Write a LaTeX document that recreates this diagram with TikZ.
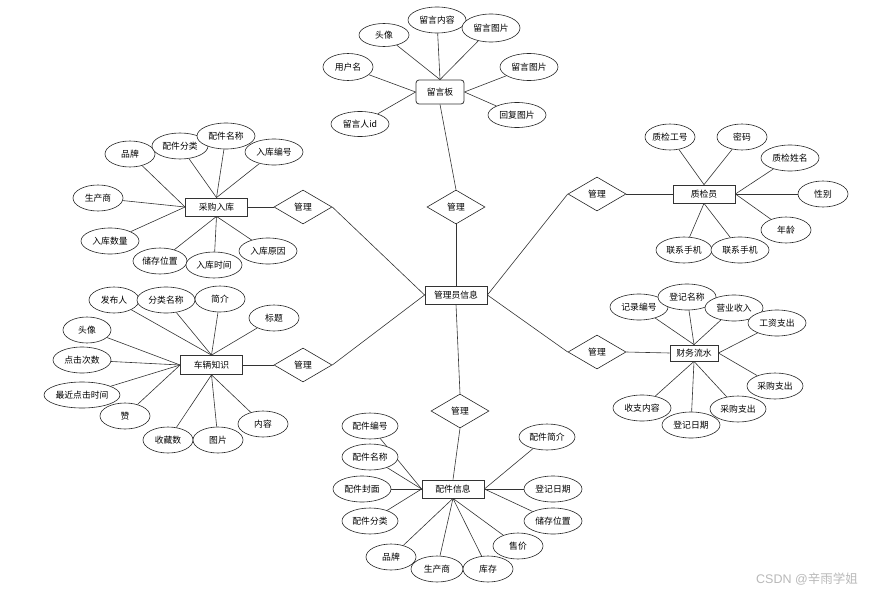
\documentclass[tikz,border=0pt]{standalone}
\usepackage{fontspec}
\newfontfamily\cjk{Noto Sans CJK SC}
\usetikzlibrary{shapes.geometric,backgrounds}
\tikzset{
  lbl/.style={font=\cjk\fontsize{8.8}{10}\selectfont},
  ent/.style={lbl,rectangle,draw=black!80,line width=0.8pt,fill=white,minimum width=62pt,minimum height=18pt,inner sep=1pt},
  attr/.style={lbl,ellipse,draw=black!85,line width=0.6pt,fill=white,minimum width=50pt,minimum height=26pt,inner sep=0pt},
  rel/.style={lbl,diamond,draw=black!85,line width=0.6pt,fill=white,minimum width=58pt,minimum height=34pt,inner sep=0pt},
  conn/.style={draw=black!80,line width=0.6pt},
}
\begin{document}
\begin{tikzpicture}[x=1pt,y=-1pt]
\useasboundingbox (0,0) rectangle (875,594);
% central
\node[ent] (admin) at (456,295) {管理员信息};
% relations
\node[rel] (d1) at (456,207) {管理};
\node[rel] (d2) at (303,207) {管理};
\node[rel] (d3) at (303,365) {管理};
\node[rel] (d4) at (597,194) {管理};
\node[rel] (d5) at (597,352) {管理};
\node[rel] (d6) at (460,411) {管理};
% entities
\node[ent,minimum width=48pt,minimum height=24pt,rounded corners=3pt] (ly) at (440,92) {留言板};
\node[ent] (zj) at (704,194) {质检员};
\node[ent] (cg) at (216.5,207) {采购入库};
\node[ent,minimum height=19pt] (cl) at (211.5,365) {车辆知识};
\node[ent,minimum width=48pt,minimum height=16pt] (cw) at (694,353) {财务流水};
\node[ent] (pj) at (453,489) {配件信息};
% 留言板 attributes
\node[attr,minimum height=23pt] (ly1) at (384,35) {头像};
\node[attr,minimum width=58pt] (ly2) at (437,20) {留言内容};
\node[attr,minimum width=58pt,minimum height=28pt] (ly3) at (491,28) {留言图片};
\node[attr,minimum height=27pt] (ly4) at (348,67) {用户名};
\node[attr,minimum width=58pt,minimum height=27pt] (ly5) at (529,67) {留言图片};
\node[attr,minimum width=58pt,minimum height=25pt] (ly6) at (360,124) {留言人id};
\node[attr,minimum width=58pt,minimum height=25pt] (ly7) at (517,115) {回复图片};
% 质检员 attributes
\node[attr] (zj1) at (670,137) {质检工号};
\node[attr] (zj2) at (742,137) {密码};
\node[attr,minimum width=58pt] (zj3) at (790,158) {质检姓名};
\node[attr] (zj4) at (823,194) {性别};
\node[attr] (zj5) at (786,230) {年龄};
\node[attr,minimum width=56pt] (zj6) at (684,250) {联系手机};
\node[attr,minimum width=58pt] (zj7) at (740,250) {联系手机};
% 采购入库 attributes
\node[attr] (cg1) at (130,154) {品牌};
\node[attr,minimum width=56pt] (cg2) at (180,146) {配件分类};
\node[attr,minimum width=58pt] (cg3) at (226,136) {配件名称};
\node[attr,minimum width=58pt] (cg4) at (274,152) {入库编号};
\node[attr] (cg5) at (98,198) {生产商};
\node[attr,minimum width=58pt] (cg6) at (110,241) {入库数量};
\node[attr,minimum width=54pt] (cg7) at (160,261) {储存位置};
\node[attr,minimum width=56pt] (cg8) at (214,265) {入库时间};
\node[attr,minimum width=58pt] (cg9) at (268,251) {入库原因};
% 车辆知识 attributes
\node[attr] (cl1) at (114,300) {发布人};
\node[attr,minimum width=58pt] (cl2) at (166,300) {分类名称};
\node[attr] (cl3) at (220,299) {简介};
\node[attr] (cl4) at (274,318) {标题};
\node[attr,minimum width=48pt] (cl5) at (87,330) {头像};
\node[attr,minimum width=58pt] (cl6) at (82,360) {点击次数};
\node[attr,minimum width=76pt] (cl7) at (82,395) {最近点击时间};
\node[attr] (cl8) at (125,416) {赞};
\node[attr] (cl9) at (168,440) {收藏数};
\node[attr] (cl10) at (218,440) {图片};
\node[attr] (cl11) at (263,424) {内容};
% 财务流水 attributes
\node[attr,minimum width=58pt] (cw1) at (639,307) {记录编号};
\node[attr,minimum width=58pt] (cw2) at (687,297) {登记名称};
\node[attr,minimum width=58pt] (cw3) at (734,308) {营业收入};
\node[attr,minimum width=58pt] (cw4) at (777,323) {工资支出};
\node[attr,minimum width=56pt] (cw5) at (775,386) {采购支出};
\node[attr,minimum width=56pt] (cw6) at (738,409) {采购支出};
\node[attr,minimum width=58pt] (cw7) at (691,425) {登记日期};
\node[attr,minimum width=58pt] (cw8) at (642,408) {收支内容};
% 配件信息 attributes
\node[attr,minimum width=56pt] (pj1) at (370,426) {配件编号};
\node[attr,minimum width=56pt] (pj2) at (370,457) {配件名称};
\node[attr,minimum width=58pt] (pj3) at (362,489) {配件封面};
\node[attr,minimum width=56pt] (pj4) at (370,521) {配件分类};
\node[attr] (pj5) at (391,557) {品牌};
\node[attr,minimum width=52pt] (pj6) at (437,569) {生产商};
\node[attr] (pj7) at (488,569) {库存};
\node[attr] (pj8) at (518,546) {售价};
\node[attr,minimum width=58pt] (pj9) at (553,521) {储存位置};
\node[attr,minimum width=58pt] (pj10) at (553,489) {登记日期};
\node[attr,minimum width=56pt] (pj11) at (547,437) {配件简介};
% watermark
\node[font=\fontspec{Liberation Sans}\fontsize{12.5}{14}\selectfont,text=black!28,inner sep=0pt] (wm) at (807,579) {CSDN @{\cjk 辛雨学姐}};
\begin{pgfonlayer}{background}
\draw[conn] (d1.south) -- (admin.north);
\draw[conn] (d2.east) -- (admin.west);
\draw[conn] (d3.east) -- (admin.west);
\draw[conn] (d4.west) -- (admin.east);
\draw[conn] (d5.west) -- (admin.east);
\draw[conn] (d6.north) -- (admin.south);
\draw[conn] (d1.north) -- (ly.south);
\draw[conn] (d2.west) -- (cg.east);
\draw[conn] (d3.west) -- (cl.east);
\draw[conn] (d4.east) -- (zj.west);
\draw[conn] (d5.east) -- (cw.west);
\draw[conn] (d6.south) -- (pj.north);
\draw[conn] (ly1) -- (ly.north); \draw[conn] (ly2) -- (ly.north); \draw[conn] (ly3) -- (ly.north);
\draw[conn] (ly4) -- (ly.west); \draw[conn] (ly5) -- (ly.east); \draw[conn] (ly6) -- (ly.west); \draw[conn] (ly7) -- (ly.east);
\draw[conn] (zj1) -- (zj.north); \draw[conn] (zj2) -- (zj.north); \draw[conn] (zj3) -- (zj.east);
\draw[conn] (zj4) -- (zj.east); \draw[conn] (zj5) -- (zj.east); \draw[conn] (zj6) -- (zj.south); \draw[conn] (zj7) -- (zj.south);
\draw[conn] (cg1) -- (cg.west); \draw[conn] (cg2) -- (cg.north); \draw[conn] (cg3) -- (cg.north); \draw[conn] (cg4) -- (cg.north);
\draw[conn] (cg5) -- (cg.west); \draw[conn] (cg6) -- (cg.west); \draw[conn] (cg7) -- (cg.south); \draw[conn] (cg8) -- (cg.south); \draw[conn] (cg9) -- (cg.south);
\draw[conn] (cl1) -- (cl.north); \draw[conn] (cl2) -- (cl.north); \draw[conn] (cl3) -- (cl.north); \draw[conn] (cl4) -- (cl.north);
\draw[conn] (cl5) -- (cl.west); \draw[conn] (cl6) -- (cl.west); \draw[conn] (cl7) -- (cl.west); \draw[conn] (cl8) -- (cl.west);
\draw[conn] (cl9) -- (cl.south); \draw[conn] (cl10) -- (cl.south); \draw[conn] (cl11) -- (cl.south);
\draw[conn] (cw1) -- (cw.north); \draw[conn] (cw2) -- (cw.north); \draw[conn] (cw3) -- (cw.north); \draw[conn] (cw4) -- (cw.east);
\draw[conn] (cw5) -- (cw.east); \draw[conn] (cw6) -- (cw.south); \draw[conn] (cw7) -- (cw.south); \draw[conn] (cw8) -- (cw.south);
\draw[conn] (pj1) -- (pj.west); \draw[conn] (pj2) -- (pj.west); \draw[conn] (pj3) -- (pj.west); \draw[conn] (pj4) -- (pj.west);
\draw[conn] (pj5) -- (pj.south); \draw[conn] (pj6) -- (pj.south); \draw[conn] (pj7) -- (pj.south); \draw[conn] (pj8) -- (pj.south);
\draw[conn] (pj9) -- (pj.east); \draw[conn] (pj10) -- (pj.east); \draw[conn] (pj11) -- (pj.east);
\end{pgfonlayer}
\end{tikzpicture}
\end{document}
